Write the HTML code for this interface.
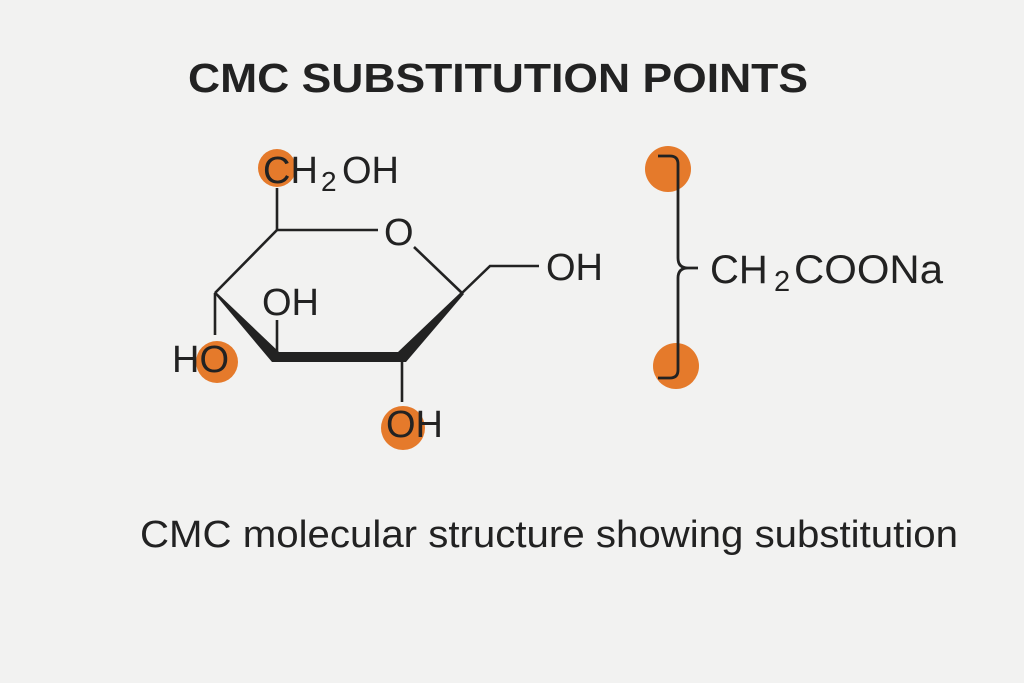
<!DOCTYPE html>
<html><head><meta charset="utf-8"><style>
html,body{margin:0;padding:0;background:#f2f2f1;}
svg{display:block;}
text{font-family:"Liberation Sans",sans-serif;fill:#222;}
</style></head><body>
<svg width="1024" height="683" viewBox="0 0 1024 683" xmlns="http://www.w3.org/2000/svg">
<rect width="1024" height="683" fill="#f2f2f1"/>
<text x="188" y="92" font-size="41" font-weight="bold" textLength="620" lengthAdjust="spacingAndGlyphs">CMC SUBSTITUTION POINTS</text>

<!-- orange circles -->
<g fill="#e57a2b">
<circle cx="277" cy="168" r="19"/>
<circle cx="217" cy="362" r="21"/>
<circle cx="403" cy="428" r="22"/>
<circle cx="668" cy="169" r="23"/>
<circle cx="676" cy="366" r="23"/>
</g>

<!-- bonds -->
<g stroke="#222" stroke-width="2.6" fill="none" stroke-linecap="butt">
<line x1="277" y1="188" x2="277" y2="230"/>
<line x1="277" y1="230" x2="378" y2="230"/>
<line x1="414" y1="247" x2="462" y2="293"/>
<polyline points="462,293 490,266 539,266"/>
<line x1="277" y1="230" x2="215" y2="293"/>
<line x1="215" y1="293" x2="215" y2="335"/>
<line x1="277" y1="320" x2="277" y2="355"/>
<line x1="402" y1="360" x2="402" y2="402"/>
</g>
<g fill="#222">
<polygon points="214,293 216,292 279,352 272,362"/>
<polygon points="274,352 402,352 403,362 272,362"/>
<polygon points="398,352 461,292 464,294 406,362 402,362"/>
</g>

<!-- labels -->
<text x="263" y="183" font-size="38">CH</text>
<text x="321" y="191" font-size="28">2</text>
<text x="342" y="183" font-size="38">OH</text>
<text x="384" y="245" font-size="38">O</text>
<text x="546" y="280" font-size="38">OH</text>
<text x="262" y="315" font-size="38">OH</text>
<text x="172" y="372" font-size="38">HO</text>
<text x="386" y="437" font-size="38">OH</text>

<!-- bracket -->
<path d="M658,156 L670,156 Q678,156 678,164 L678,258 Q678,268 688,268 L698,268 M688,268 Q678,268 678,278 L678,370 Q678,378 670,378 L658,378" stroke="#222" stroke-width="2.8" fill="none"/>
<text x="710" y="283" font-size="40">CH</text>
<text x="774" y="291" font-size="29">2</text>
<text x="794" y="283" font-size="40" textLength="149" lengthAdjust="spacingAndGlyphs">COONa</text>

<text x="140" y="547" font-size="38" textLength="818" lengthAdjust="spacingAndGlyphs">CMC molecular structure showing substitution</text>
</svg>
</body></html>
